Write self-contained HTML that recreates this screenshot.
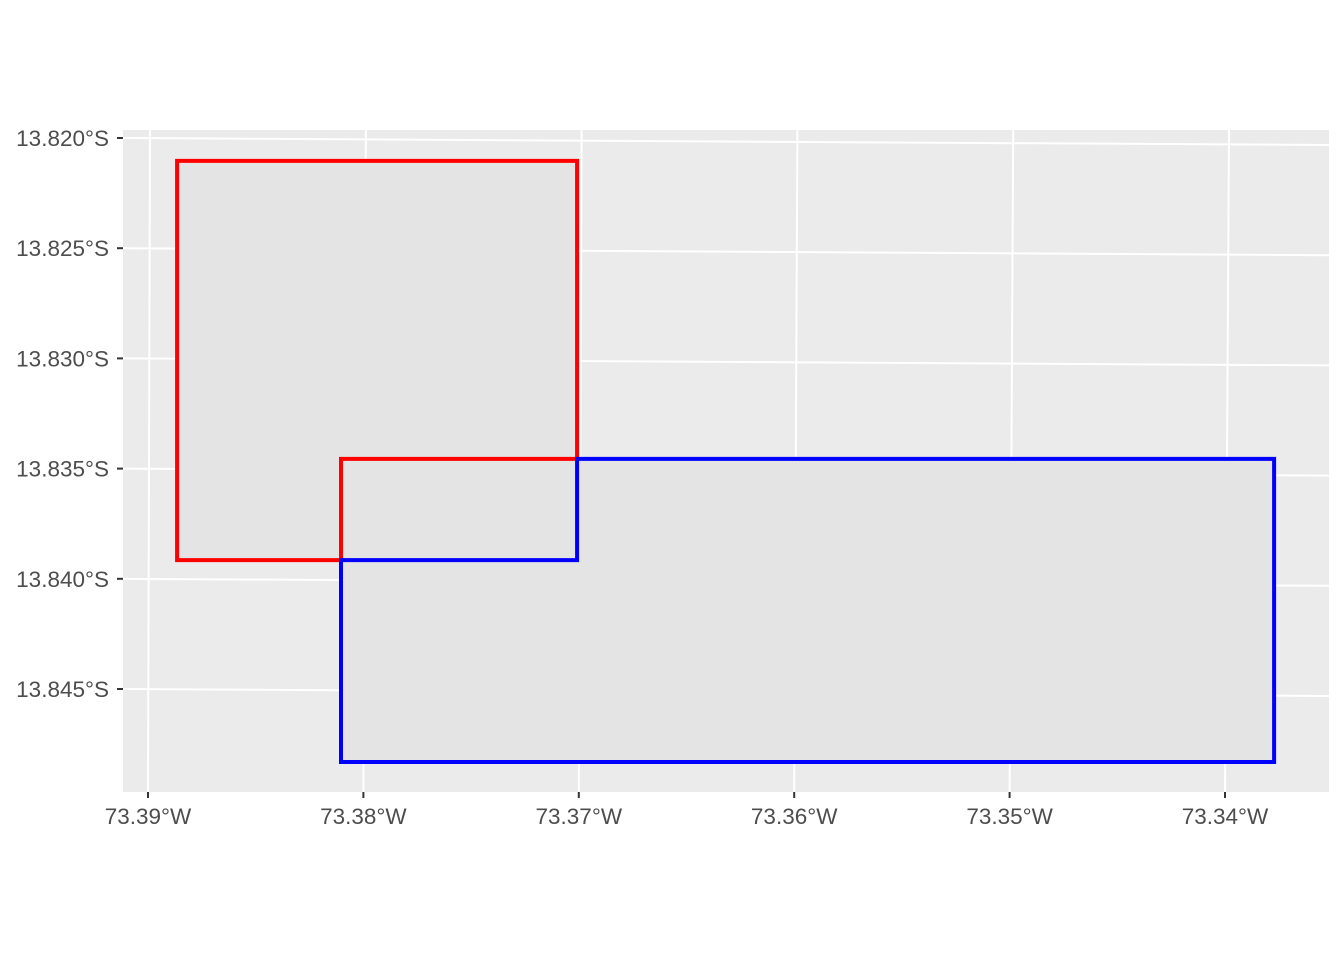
<!DOCTYPE html>
<html><head><meta charset="utf-8"><style>
html,body{margin:0;padding:0;background:#fff;}
svg text{font-family:"Liberation Sans",sans-serif;font-size:22.5px;fill:#4d4d4d;}
</style></head><body>
<svg id="chart" width="1344" height="960" xmlns="http://www.w3.org/2000/svg">
<rect x="123" y="130" width="1206" height="662" fill="#ebebeb"/>
<g id="grid"></g>
<g id="shapes"></g>
<g id="axes"></g>
</svg>
<script>
const lonTicks=[-73.39,-73.38,-73.37,-73.36,-73.35,-73.34];
const lonLabels=["73.39°W","73.38°W","73.37°W","73.36°W","73.35°W","73.34°W"];
const latTicks=[-13.820,-13.825,-13.830,-13.835,-13.840,-13.845];
const latLabels=["13.820°S","13.825°S","13.830°S","13.835°S","13.840°S","13.845°S"];
const redLon=[-73.38865,-73.37008,-73.37008,-73.38104,-73.38104,-73.38865];
const redLat=[-13.82104,-13.82104,-13.83456,-13.83456,-13.83915,-13.83915];
const blueLon=[-73.37008,-73.33772,-73.33772,-73.38104,-73.38104,-73.37008];
const blueLat=[-13.83456,-13.83456,-13.84831,-13.84831,-13.83915,-13.83915];
const overLon=[-73.38104,-73.37008,-73.37008,-73.38104];
const overLat=[-13.83456,-13.83456,-13.83915,-13.83915];
const X=v=>148+(v+73.39)*21540;
const Y=v=>138+(-13.820-v)*22040;
const NS="http://www.w3.org/2000/svg";
function mk(tag,attrs,parent){const e=document.createElementNS(NS,tag);for(const k in attrs)e.setAttribute(k,attrs[k]);parent.appendChild(e);return e;}
const grid=document.getElementById('grid'),shapes=document.getElementById('shapes'),axes=document.getElementById('axes');
lonTicks.forEach((t,i)=>{const x=X(t);
 const l=mk('line',{x1:x+2+i*0.4,y1:130,x2:x,y2:792,stroke:'#fff','stroke-width':2},grid);
 
 
 const tk=mk('line',{x1:x,y1:792,x2:x,y2:798,stroke:'#333','stroke-width':2},axes);
 
 
 const tx=mk('text',{x:x,y:824,'text-anchor':'middle'},axes);tx.textContent=lonLabels[i];
 
 
});
latTicks.forEach((t,i)=>{const y=Y(t);
 const l=mk('line',{x1:123,y1:y,x2:1329,y2:y+7,stroke:'#fff','stroke-width':2},grid);
 
 
 const tk=mk('line',{x1:117,y1:y,x2:123,y2:y,stroke:'#333','stroke-width':2},axes);
 
 
 const tx=mk('text',{x:109,y:y+8,'text-anchor':'end'},axes);tx.textContent=latLabels[i];
 
 
});
function poly(lons,lats,stroke,name){
 const pts=lons.map((v,i)=>X(v)+','+Y(lats[i])).join(' ');
 const p=mk('polygon',{points:pts,fill:'#e4e4e4',stroke:stroke,'stroke-width':stroke==='none'?0:4},shapes);
 
 
}
poly(overLon,overLat,'none','overlap-region');
poly(redLon,redLat,'#ff0000','red-polygon');
poly(blueLon,blueLat,'#0000ff','blue-polygon');
</script>
</body></html>
